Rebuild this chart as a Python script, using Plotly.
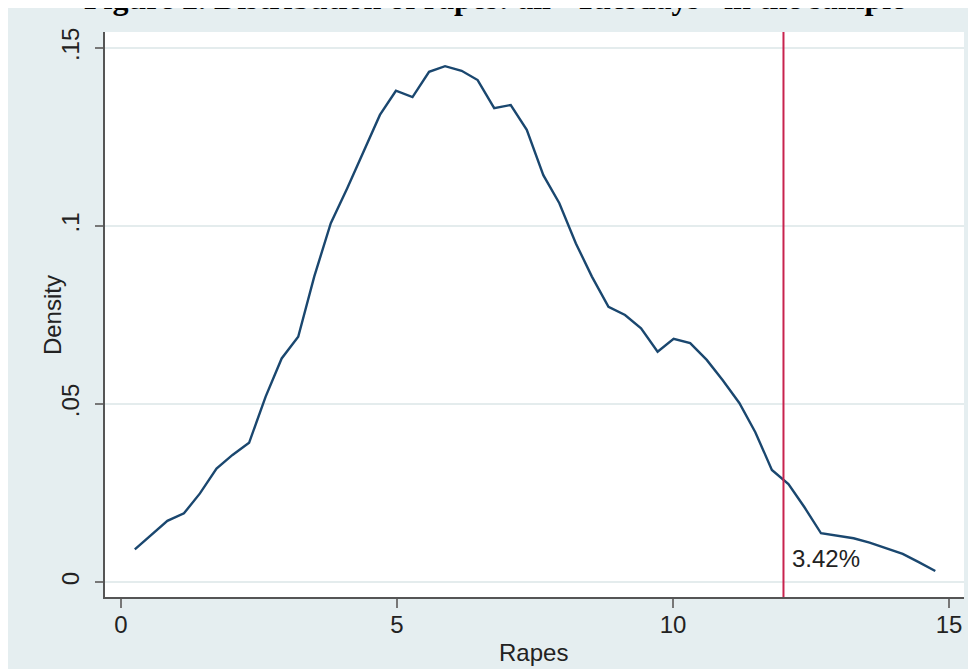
import plotly.graph_objects as go

# Kernel density estimate of rapes
rapes = [0.25, 0.55, 0.84, 1.14, 1.43, 1.73, 2.02, 2.32, 2.62, 2.91,
         3.21, 3.50, 3.80, 4.10, 4.39, 4.69, 4.98, 5.28, 5.58, 5.87,
         6.17, 6.46, 6.76, 7.06, 7.35, 7.65, 7.94, 8.24, 8.53, 8.83,
         9.13, 9.42, 9.72, 10.01, 10.31, 10.61, 10.90, 11.20, 11.49, 11.79,
         12.09, 12.38, 12.68, 12.97, 13.27, 13.56, 13.86, 14.16, 14.45, 14.75]
density = [0.0092, 0.0132, 0.0172, 0.0193, 0.0249, 0.0319, 0.0357, 0.0391, 0.0521, 0.0628,
           0.0689, 0.0858, 0.1008, 0.1107, 0.1208, 0.1312, 0.1380, 0.1362, 0.1433, 0.1449,
           0.1436, 0.1410, 0.1331, 0.1340, 0.1270, 0.1143, 0.1064, 0.0951, 0.0858, 0.0773,
           0.0750, 0.0713, 0.0647, 0.0683, 0.0671, 0.0624, 0.0567, 0.0503, 0.0421, 0.0315,
           0.0275, 0.0210, 0.0137, 0.0131, 0.0123, 0.0111, 0.0096, 0.0079, 0.0056, 0.0031]

cutoff = 12
cutoff_label = "3.42%"
x_ticks = [0, 5, 10, 15]
x_tick_text = ["0", "5", "10", "15"]
y_ticks = [0, 0.05, 0.1, 0.15]
y_tick_text = ["0", ".05", ".1", ".15"]
x_title = "Rapes"
y_title = "Density"
title_text = "Figure 2. Distribution of rapes: all \u201cTuesdays\u201d in the sample"

x_range = [-0.29, 15.27]
y_range = [-0.0042, 0.1545]

FONT = "Liberation Sans, Arial, sans-serif"
FS = 24
TXT = "#222222"
AXC = "#555555"
GRID = "#e4eced"

fig = go.Figure()
fig.add_trace(go.Scatter(x=rapes, y=density, mode="lines",
                         line=dict(color="#1a476f", width=2.4),
                         showlegend=False, hoverinfo="x+y"))
fig.add_trace(go.Scatter(x=[cutoff, cutoff], y=y_range, mode="lines",
                         line=dict(color="#c8234e", width=2),
                         showlegend=False, hoverinfo="skip"))

fig.add_annotation(x=cutoff + 0.12, y=0.0065, xref="x", yref="y",
                   text=cutoff_label, showarrow=False, xanchor="left", yanchor="middle",
                   font=dict(family=FONT, size=FS, color=TXT))

# axis titles
fig.add_annotation(x=-0.0617, y=0.499, xref="paper", yref="paper", text=y_title,
                   textangle=-90, showarrow=False, xanchor="center", yanchor="middle",
                   font=dict(family=FONT, size=FS, color=TXT))
fig.add_annotation(x=0.4994, y=-0.0991, xref="paper", yref="paper", text=x_title,
                   showarrow=False, xanchor="center", yanchor="middle",
                   font=dict(family=FONT, size=FS, color=TXT))

# title, cut off at the very top of the page
fig.add_annotation(x=(494 - 8 - 97) / 859, y=1.060, xref="paper", yref="paper",
                   text="<b>" + title_text + "</b>", showarrow=False,
                   xanchor="center", yanchor="middle",
                   font=dict(family="Liberation Serif, Times New Roman, serif", size=32, color="#000"))

fig.update_layout(
    width=960, height=661,
    margin=dict(l=97, r=4, t=24, b=72),
    paper_bgcolor="#e5eef0", plot_bgcolor="#ffffff",
    font=dict(family=FONT, size=FS, color=TXT),
    xaxis=dict(range=x_range, tickvals=x_ticks, ticktext=x_tick_text,
               showgrid=False, zeroline=False, showline=True, linecolor=AXC, linewidth=2,
               ticks="outside", ticklen=9, tickwidth=2, tickcolor="#777777",
               ticklabelstandoff=-4,
               tickfont=dict(family=FONT, size=FS, color=TXT)),
    yaxis=dict(range=y_range, tickvals=y_ticks, ticktext=y_tick_text, tickangle=-90,
               showgrid=True, gridcolor=GRID, gridwidth=1.5, zeroline=False,
               showline=True, linecolor=AXC, linewidth=2,
               ticks="outside", ticklen=8, tickwidth=2, tickcolor="#777777",
               ticklabelstandoff=6,
               tickfont=dict(family=FONT, size=FS, color=TXT)),
)

fig.write_html("out.html")
